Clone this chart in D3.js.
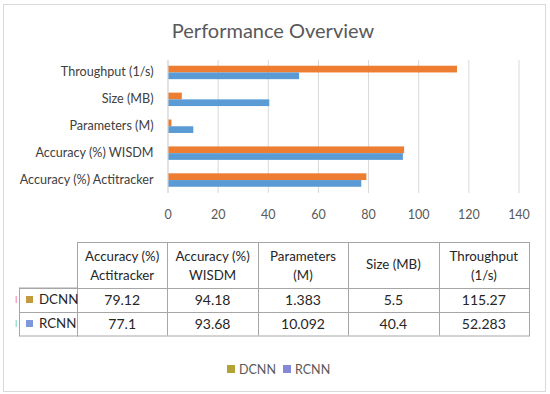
<!DOCTYPE html>
<html>
<head>
<meta charset="utf-8">
<script src="https://cdn.jsdelivr.net/npm/d3@7"></script>
<style>
  body { margin: 0; background: #fff; }
  svg { font-family: Lato, "Open Sans", sans-serif; }
</style>
</head>
<body>
<div id="chart"></div>
<script>
// chart data
const categories = ["Throughput (1/s)", "Size (MB)", "Parameters (M)", "Accuracy (%) WISDM", "Accuracy (%) Actitracker"];
const seriesNames = ["DCNN", "RCNN"];
const dcnnValues = [115.27, 5.5, 1.383, 94.18, 79.12];
const rcnnValues = [52.283, 40.4, 10.092, 93.68, 77.1];
const xTicks = [0, 20, 40, 60, 80, 100, 120, 140];

// table data
const tableHeaders = [["Accuracy (%)", "Actitracker"], ["Accuracy (%)", "WISDM"], ["Parameters", "(M)"], ["Size (MB)"], ["Throughput", "(1/s)"]];
const dcnnRow = ["79.12", "94.18", "1.383", "5.5", "115.27"];
const rcnnRow = ["77.1", "93.68", "10.092", "40.4", "52.283"];

const W = 550, H = 394;
const barColors = { DCNN: "#ED7D31", RCNN: "#5B9BD5" };
const tableKeyColors = { DCNN: "#C39A3E", RCNN: "#7F98DB" };
const legendColors = { DCNN: "#B5A236", RCNN: "#8787D8" };

const svg = d3.select("#chart").append("svg")
  .attr("width", W).attr("height", H);

// outer border
svg.append("rect")
  .attr("x", 3.5).attr("y", 4.5)
  .attr("width", 542).attr("height", 387)
  .attr("fill", "#fff").attr("stroke", "#d9d9d9");

svg.append("text")
  .attr("x", 273).attr("y", 38)
  .attr("text-anchor", "middle")
  .attr("fill", "#595959")
  .style("font-size", "20px")
  .text("Performance Overview");

const x = d3.scaleLinear().domain([0, 140]).range([167.5, 518.5]);
const y = d3.scaleBand().domain(categories).range([59, 193.5])
  .paddingInner(0.5).paddingOuter(0.25);
const ySub = d3.scaleBand().domain(seriesNames).range([0, y.bandwidth()]);

// gridlines
svg.append("g").selectAll("line")
  .data(xTicks)
  .join("line")
  .attr("x1", d => x(d) + 0.5).attr("x2", d => x(d) + 0.5)
  .attr("y1", 60).attr("y2", 193)
  .attr("stroke", "#d9d9d9");

// x axis labels
const xAxis = svg.append("g")
  .attr("transform", "translate(0,193)")
  .call(d3.axisBottom(x).tickValues(xTicks).tickSize(0).tickPadding(17));
xAxis.select(".domain").remove();
xAxis.selectAll("text")
  .attr("fill", "#595959")
  .style("font-size", "12.5px")
  .style("font-family", "Lato, sans-serif");

// y axis labels
const yAxis = svg.append("g")
  .attr("transform", "translate(167.5,0)")
  .call(d3.axisLeft(y).tickSize(0).tickPadding(14));
yAxis.select(".domain").remove();
yAxis.selectAll("text")
  .attr("fill", "#404040")
  .style("font-size", "12.6px")
  .style("font-family", "Lato, sans-serif");

const rows = categories.map((c, i) => ({ cat: c, DCNN: dcnnValues[i], RCNN: rcnnValues[i] }));

svg.append("g").selectAll("g")
  .data(rows)
  .join("g")
  .attr("transform", d => `translate(0,${y(d.cat)})`)
  .selectAll("rect")
  .data(d => seriesNames.map(s => ({ s, v: d[s] })))
  .join("rect")
  .attr("x", x(0) + 0.5)
  .attr("y", d => ySub(d.s))
  .attr("width", d => x(d.v) - x(0))
  .attr("height", ySub.bandwidth())
  .attr("fill", d => barColors[d.s]);

// axis line
svg.append("line")
  .attr("x1", x(0) + 0.5).attr("x2", x(0) + 0.5)
  .attr("y1", 60).attr("y2", 193)
  .attr("stroke", "#d9d9d9");

// data table
const colX = d3.scaleBand().domain(d3.range(tableHeaders.length)).range([77, 529]);
const tableTop = 242, headerBottom = 287.5, rowH = 24;
const rowLeft = 19;
const tableColor = "#a6a6a6";
const tbl = svg.append("g");

// header cell block
tbl.append("rect")
  .attr("x", colX(0) + 0.5).attr("y", tableTop + 0.5)
  .attr("width", colX.range()[1] - colX.range()[0]).attr("height", headerBottom - tableTop + 2 * rowH)
  .attr("fill", "none").attr("stroke", tableColor);
tbl.append("rect")
  .attr("x", rowLeft + 0.5).attr("y", headerBottom + 0.5)
  .attr("width", colX(0) - rowLeft).attr("height", 2 * rowH)
  .attr("fill", "none").attr("stroke", tableColor);
tbl.selectAll(".vline")
  .data(d3.range(1, tableHeaders.length))
  .join("line")
  .attr("x1", d => Math.round(colX(d)) + 0.5).attr("x2", d => Math.round(colX(d)) + 0.5)
  .attr("y1", tableTop).attr("y2", headerBottom + 2 * rowH)
  .attr("stroke", tableColor);
[headerBottom, headerBottom + rowH].forEach(yy => {
  tbl.append("line")
    .attr("x1", rowLeft).attr("x2", colX.range()[1])
    .attr("y1", Math.round(yy) + 0.5).attr("y2", Math.round(yy) + 0.5)
    .attr("stroke", tableColor);
});

// header text
tableHeaders.forEach((lines, i) => {
  const t = tbl.append("text")
    .attr("x", colX(i) + colX.bandwidth() / 2)
    .attr("text-anchor", "middle")
    .attr("fill", "#262626")
    .style("font-size", "13.3px");
  const y0 = lines.length === 1 ? 269 : 261;
  lines.forEach((ln, k) => {
    t.append("tspan").attr("x", colX(i) + colX.bandwidth() / 2).attr("y", y0 + k * 19).text(ln);
  });
});

// body rows
[dcnnRow, rcnnRow].forEach((row, r) => {
  const cy = headerBottom + r * rowH + rowH / 2;
  const name = seriesNames[r];
  tbl.append("rect")
    .attr("x", 15.5).attr("y", cy - 3.5).attr("width", 1.5).attr("height", 7)
    .attr("fill", r === 0 ? "#F4A7C8" : "#9FE3DD");
  tbl.append("rect")
    .attr("x", 26).attr("y", cy - 3.5).attr("width", 7).attr("height", 7)
    .attr("fill", tableKeyColors[name]);
  tbl.append("text")
    .attr("x", 39).attr("y", cy + 4.5)
    .attr("fill", "#262626")
    .style("font-size", "13.3px")
    .text(name);
  row.forEach((v, i) => {
    tbl.append("text")
      .attr("x", colX(i) + colX.bandwidth() / 2).attr("y", cy + 5)
      .attr("text-anchor", "middle")
      .attr("fill", "#262626")
      .style("font-size", "14px")
      .text(v);
  });
});

// legend
const legend = svg.append("g").attr("transform", "translate(227,369)");
const legendX = [0, 56];
seriesNames.forEach((s, i) => {
  legend.append("rect")
    .attr("x", legendX[i]).attr("y", -4)
    .attr("width", 8).attr("height", 8)
    .attr("fill", legendColors[s]);
  legend.append("text")
    .attr("x", legendX[i] + 12).attr("y", 4.5)
    .attr("fill", "#595959")
    .style("font-size", "12.5px")
    .text(s);
});
</script>
</body>
</html>
